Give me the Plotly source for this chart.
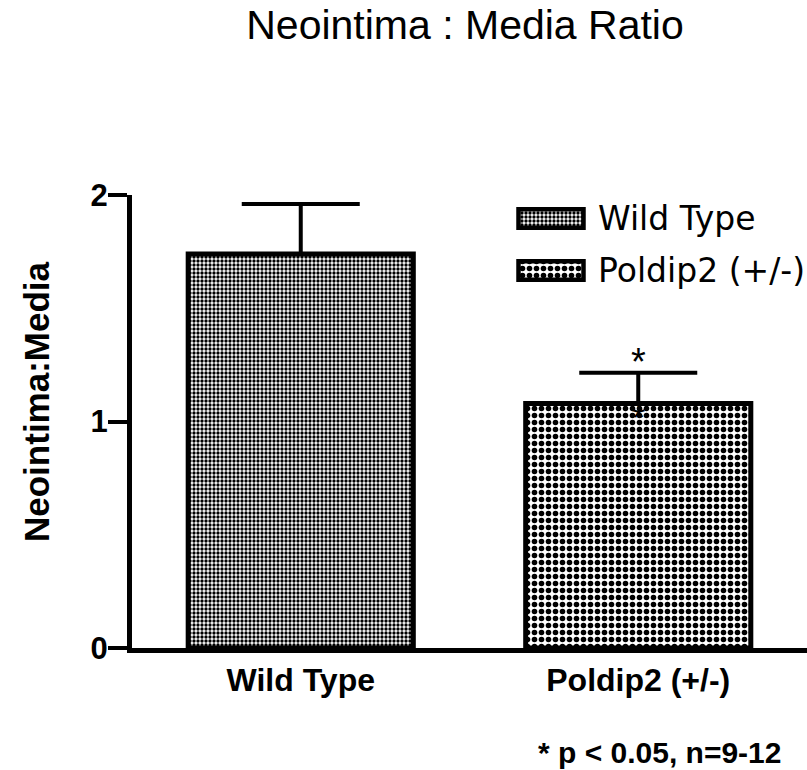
import plotly.graph_objects as go

# ---------------- data ----------------
categories = ["Wild Type", "Poldip2 (+/-)"]
means = [1.74, 1.08]
errors = [0.22, 0.135]
significance = ["", "*"]
y_tickvals = [0, 1, 2]
y_ticktext = ["0", "1", "2"]
title_text = "Neointima : Media Ratio"
y_title_text = "Neointima:Media"
footnote_text = "* p < 0.05, n=9-12"

# ---------------- styles ----------------
W, H = 807, 770
ML, MR, MT, MB = 132, 0, 195, 122
PLOT_TOP, PLOT_BOT = MT, H - MB
PLOT_H = PLOT_BOT - PLOT_TOP
PLOT_W = W - ML - MR
FONT = "Liberation Sans, Arial, Helvetica, sans-serif"
LEG_FONT = "DejaVu Sans, Liberation Sans, Arial, sans-serif"
patterns = [
    dict(shape=".", fgcolor="black", bgcolor="white", size=4, solidity=0.55, fillmode="replace"),
    dict(shape=".", fgcolor="black", bgcolor="white", size=7, solidity=0.5, fillmode="replace"),
]


def px_x(px):
    return (px - ML) / PLOT_W


def px_y(py):
    return (PLOT_BOT - py) / PLOT_H


fig = go.Figure()

# main bars
for i, cat in enumerate(categories):
    fig.add_trace(go.Bar(
        x=[cat], y=[means[i]],
        width=0.667,
        marker=dict(color="white", line=dict(color="black", width=5), pattern=patterns[i]),
        error_y=dict(type="data", array=[errors[i]], arrayminus=[0], symmetric=False,
                     color="black", thickness=4, width=59),
        showlegend=False, hoverinfo="skip",
    ))

# legend swatches (drawn on a small helper axis pair)
for i, cat in enumerate(categories):
    fig.add_trace(go.Bar(
        x=[1], y=[cat], orientation="h", base=0,
        width=0.36,
        xaxis="x2", yaxis="y2",
        marker=dict(color="white", line=dict(color="black", width=4.5), pattern=patterns[i]),
        showlegend=False, hoverinfo="skip",
    ))

leg_unit = 52.0
leg_c0 = 218.5
leg_top = PLOT_TOP
leg_bot = leg_c0 + 1.5 * leg_unit
leg_r_top = -(leg_c0 - leg_top) / leg_unit
x2_left, x2_right = 512, 590

annotations = []
for i, cat in enumerate(categories):
    if significance[i]:
        annotations.append(dict(
            x=cat, y=means[i] + errors[i], xref="x", yref="y",
            text=significance[i], showarrow=False, yanchor="bottom",
            font=dict(family=FONT, size=38, color="black"), yshift=-12,
        ))
        annotations.append(dict(
            x=cat, y=means[i], xref="x", yref="y",
            text=significance[i], showarrow=False, yanchor="middle",
            font=dict(family=FONT, size=34, color="black"), yshift=-14,
        ))

# y-axis title
annotations.append(dict(
    x=px_x(36), y=px_y(402), xref="paper", yref="paper",
    text=y_title_text, textangle=-90, showarrow=False,
    xanchor="center", yanchor="middle",
    font=dict(family=FONT, size=35, color="black", weight="bold"),
))

# footnote
annotations.append(dict(
    x=px_x(659), y=px_y(752),
    xref="paper", yref="paper", text=footnote_text, showarrow=False,
    xanchor="center", yanchor="middle",
    font=dict(family=FONT, size=30, color="black", weight="bold"),
))

fig.update_layout(
    width=W, height=H,
    margin=dict(l=ML, r=MR, t=MT, b=MB, autoexpand=False),
    paper_bgcolor="white", plot_bgcolor="white",
    barmode="overlay",
    title=dict(text=title_text, x=465 / W, y=1 - 25 / H, xref="container", yref="container",
               xanchor="center", yanchor="middle",
               font=dict(family=FONT, size=41, color="black")),
    xaxis=dict(
        type="category", categoryarray=categories, categoryorder="array",
        range=[-0.5, 1.5], showline=True, linewidth=5, linecolor="black",
        ticks="", showgrid=False, zeroline=False,
        tickfont=dict(family=FONT, size=32, color="black", weight="bold"),
        automargin=False,
    ),
    yaxis=dict(
        range=[0, 2], tickvals=y_tickvals, ticktext=y_ticktext,
        showline=True, linewidth=5, linecolor="black",
        ticks="outside", ticklen=19, tickwidth=4, tickcolor="black",
        ticklabelstandoff=-6,
        showgrid=False, zeroline=False,
        tickfont=dict(family=FONT, size=31, color="black", weight="bold"),
        automargin=False,
    ),
    xaxis2=dict(
        domain=[px_x(x2_left), px_x(x2_right)],
        range=[-0.1, 1.1], anchor="y2", visible=False, fixedrange=True,
    ),
    yaxis2=dict(
        domain=[px_y(leg_bot), px_y(leg_top)],
        type="category", categoryarray=categories, categoryorder="array",
        range=[1.5, leg_r_top], anchor="x2", side="right",
        showline=False, showgrid=False, zeroline=False, ticks="",
        ticklabelstandoff=7,
        tickfont=dict(family=LEG_FONT, size=33, color="black"),
        fixedrange=True,
    ),
    annotations=annotations,
    font=dict(family=FONT, color="black"),
)

fig.write_html("out.html")
